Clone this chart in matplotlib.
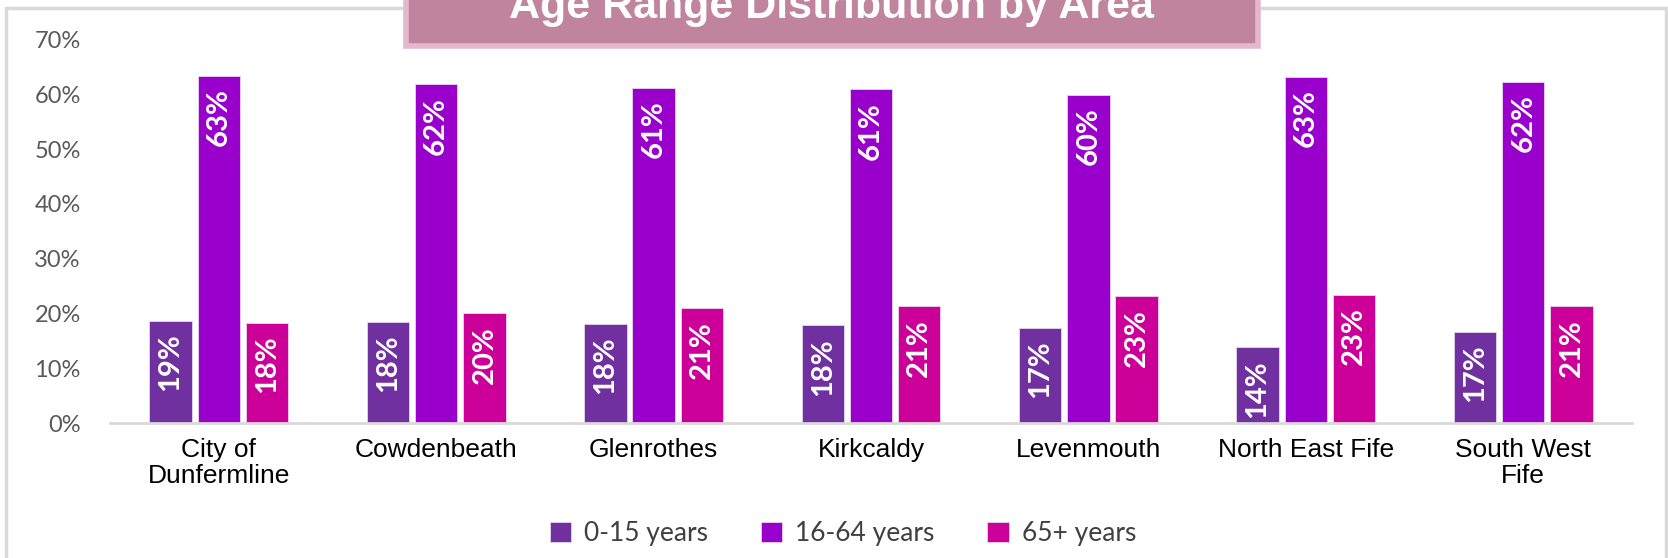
import numpy as np
import matplotlib
matplotlib.use("Agg")
import matplotlib.pyplot as plt
from matplotlib.patches import Rectangle

areas = ["City of\nDunfermline", "Cowdenbeath", "Glenrothes", "Kirkcaldy",
         "Levenmouth", "North East Fife", "South West\nFife"]
series_names = ["0-15 years", "16-64 years", "65+ years"]
age_0_15 = [18.6, 18.4, 18.0, 17.8, 17.4, 13.8, 16.6]
age_16_64 = [63.4, 61.8, 61.1, 60.9, 59.9, 63.2, 62.3]
age_65_plus = [18.3, 20.0, 20.9, 21.3, 23.1, 23.4, 21.3]
colors = ["#7030A0", "#9900CC", "#CC0099"]

fig = plt.figure(figsize=(16.68, 5.58), dpi=100)

# outer chart frame
fig.patches.append(Rectangle((6 / 1668, -0.05), 1660 / 1668, 1.05 - 8 / 558,
                             transform=fig.transFigure, fill=False,
                             edgecolor="#D9D9D9", lw=2.5, zorder=0))

ax = fig.add_axes([110 / 1668, 1 - 423 / 558, 1522 / 1668, (423 - 39.4) / 558])

x = np.arange(len(areas))
width = 0.195
step = 0.222
all_series = [age_0_15, age_16_64, age_65_plus]
for i, (vals, name, col) in enumerate(zip(all_series, series_names, colors)):
    v = np.array(vals) / 100
    bars = ax.bar(x + (i - 1) * step, v, width, color=col, label=name,
                  edgecolor="#E6D6EC", linewidth=0.6)
    for b, val in zip(bars, vals):
        ax.annotate(f"{round(val):.0f}%",
                    (b.get_x() + b.get_width() / 2, b.get_height()),
                    xytext=(0, -9), textcoords="offset points",
                    rotation=90, ha="center", va="top", color="white",
                    fontsize=21, fontweight="bold", family="Lato")

ax.set_xlim(-0.5, len(areas) - 0.5)
ax.set_ylim(0, 0.7)
ax.set_yticks(np.arange(0, 0.71, 0.1))
ax.set_yticklabels([f"{int(round(t * 100))}%" for t in np.arange(0, 0.71, 0.1)],
                   family="Lato", fontsize=17, color="#595959")
ax.set_xticks(x)
ax.set_xticklabels(areas, family="Liberation Sans", fontsize=19,
                   color="black", linespacing=1.1)
ax.tick_params(axis="both", length=0)
ax.tick_params(axis="x", pad=11)
ax.tick_params(axis="y", pad=21)
for s in ["top", "right", "left"]:
    ax.spines[s].set_visible(False)
ax.spines["bottom"].set_color("#D9D9D9")
ax.spines["bottom"].set_linewidth(2)

leg = fig.legend(loc="center", bbox_to_anchor=(843 / 1668, 1 - 534 / 558),
                 ncol=3, frameon=False, handlelength=0.8, handleheight=0.8,
                 handletextpad=0.5, columnspacing=2.0,
                 prop={"family": "Lato", "size": 19})
for t in leg.get_texts():
    t.set_color("#404040")

# title box at the top, clipped by the figure edge
fig.patches.append(Rectangle((406 / 1668, 1 - 46 / 558), 852 / 1668, 60 / 558,
                             transform=fig.transFigure, facecolor="#C0849F",
                             edgecolor="#E3B8CD", lw=4, zorder=5))
fig.text(831 / 1668, 1 - 18 / 558, "Age Range Distribution by Area",
         ha="center", va="baseline", color="white", fontsize=31,
         fontweight="bold", family="Liberation Sans", zorder=6)

fig.savefig("out.png", dpi=100)
